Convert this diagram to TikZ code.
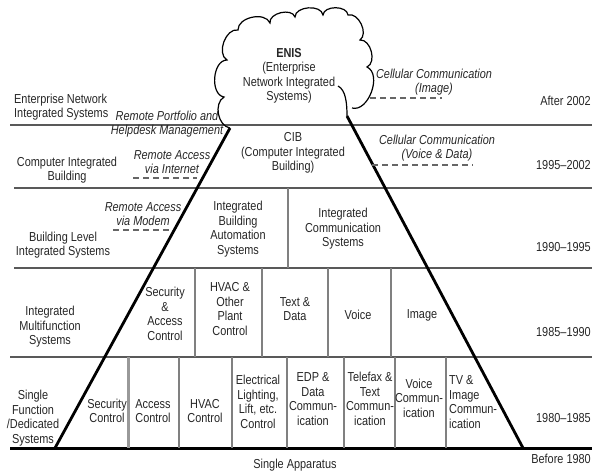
\documentclass[tikz,border=0pt]{standalone}
\usepackage{fontspec}
\setmainfont{Liberation Sans}[FakeStretch=0.84]
\begin{document}
\begin{tikzpicture}[x=1pt,y=-1pt,
  txt/.style={font=\fontsize{13}{14.5}\selectfont, align=center, inner sep=0pt, text=black!85},
  itx/.style={txt, font=\fontsize{13}{14.5}\selectfont\itshape},
  hline/.style={draw=black!65, line width=2pt},
  vline/.style={draw=black!50, line width=1.4pt},
  dline/.style={draw=black!60, line width=1.5pt, dash pattern=on 6pt off 4pt},
  pyr/.style={draw=black, line width=2.8pt},
  cloudline/.style={draw=black, line width=1.2pt},
]
\useasboundingbox (0,0) rectangle (592,475);

% horizontal era lines
\draw[hline] (10,125) -- (592,125);
\draw[hline] (14,188) -- (592,188);
\draw[hline] (14,268) -- (592,268);
\draw[hline] (10,357) -- (592,357);
\draw[draw=black, line width=3pt] (10,448) -- (592,448);

% vertical separators
\draw[vline] (288,188) -- (288,268);
\foreach \x in {195,262,328,391} \draw[vline] (\x,268) -- (\x,357);
\draw[draw=black!40, line width=3pt] (128,357) -- (128,448);
\foreach \x in {179,232,287,344,395,446} \draw[vline] (\x,357) -- (\x,448);

% cloud
\draw[cloudline] (230,128) to[bend left=70] (224,97) to[bend left=85] (227,60)
  to[bend left=80] (238,30) to[bend left=80] (270,23) to[bend left=85] (295,17)
  to[bend left=85] (323,15) to[bend left=85] (348,15) to[bend left=80] (360,40)
  to[bend left=80] (367,67) to[bend left=85] (352,108);
\draw[cloudline] (338,86) .. controls (346,90) and (347,104) .. (347,116);

% pyramid
\coordinate (lt) at (230,128);
\coordinate (lb) at (55,448);
\coordinate (rt) at (347,116);
\coordinate (rb) at (523,448);
\draw[pyr] (lt) -- (lb);
\draw[pyr] (rt) -- (rb);

% top row
\node[txt, anchor=west, align=left] (ent) at (14,107) {Enterprise Network\\Integrated Systems};
\node[itx] (rpa) at (167,124) {Remote Portfolio and\\Helpdesk Management};
\node[txt] (enis) at (289,76) {\textbf{ENIS}\\(Enterprise\\Network Integrated\\Systems)};
\node[itx] (ccimg) at (434,82) {Cellular Communication\\(Image)};
\coordinate (d1a) at (370,98); \coordinate (d1b) at (442,98);
\draw[dline] (d1a) -- (d1b);
\node[txt, anchor=east] (y02) at (591,101) {After 2002};

% CIB row
\node[txt] (cibl) at (67,170) {Computer Integrated\\Building};
\node[itx] (rai) at (172,162) {Remote Access\\via Internet};
\coordinate (d2a) at (133,178); \coordinate (d2b) at (197,178);
\draw[dline] (d2a) -- (d2b);
\node[txt] (cib) at (293,153) {CIB\\(Computer Integrated\\Building)};
\node[itx] (ccvd) at (437,148) {Cellular Communication\\(Voice \& Data)};
\coordinate (d3a) at (372,165); \coordinate (d3b) at (473,165);
\draw[dline] (d3a) -- (d3b);
\node[txt, anchor=east] (y9502) at (591,165) {1995--2002};

% building level row
\node[itx] (ram) at (143,214) {Remote Access\\via Modem};
\coordinate (d4a) at (113,230); \coordinate (d4b) at (170,230);
\draw[dline] (d4a) -- (d4b);
\node[txt] (bli) at (63,245) {Building Level\\Integrated Systems};
\node[txt] (iba) at (238,229) {Integrated\\Building\\Automation\\Systems};
\node[txt] (ics) at (343,229) {Integrated\\Communication\\Systems};
\node[txt, anchor=east] (y9095) at (591,247) {1990--1995};

% multifunction row
\node[txt] (ims) at (50,327) {Integrated\\Multifunction\\Systems};
\node[txt] (sac) at (165,314) {Security\\\&\\Access\\Control};
\node[txt] (hvac) at (230,309) {HVAC \&\\Other\\Plant\\Control};
\node[txt] (td) at (295,309) {Text \&\\Data};
\node[txt] (voice) at (358,315) {Voice};
\node[txt] (image) at (422,315) {Image};
\node[txt, anchor=east] (y8590) at (591,332) {1985--1990};

% single function row
\node[txt] (sfd) at (33,418) {Single\\Function\\/Dedicated\\Systems};
\node[txt] (sc) at (107,411) {Security\\Control};
\node[txt] (ac) at (153,411) {Access\\Control};
\node[txt] (hc) at (205,411) {HVAC\\Control};
\node[txt] (el) at (258,402) {Electrical\\Lighting,\\Lift, etc.\\Control};
\node[txt] (edp) at (313,399) {EDP \&\\Data\\Commun-\\ication};
\node[txt] (tt) at (370,399) {Telefax \&\\Text\\Commun-\\ication};
\node[txt] (vc) at (419,398) {Voice\\Commun-\\ication};
\node[txt, anchor=west, align=left] (tv) at (449,402) {TV \&\\Image\\Commun-\\ication};
\node[txt, anchor=east] (y8085) at (591,418) {1980--1985};

% base
\node[txt] (sa) at (295,465) {Single Apparatus};
\node[txt, anchor=east] (b80) at (591,459) {Before 1980};
\end{tikzpicture}
\end{document}
